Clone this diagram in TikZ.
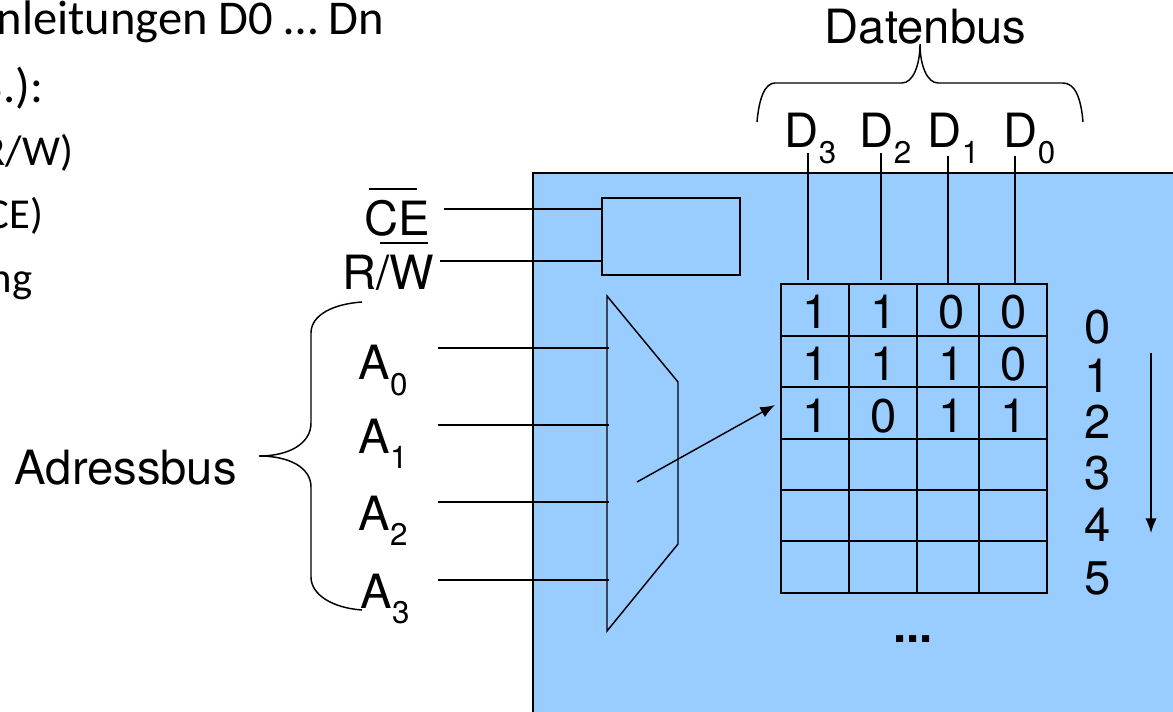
\documentclass[tikz,border=0pt]{standalone}
\usepackage{fontspec}
\setmainfont{TeX Gyre Heros}
\newfontfamily\slidefont{Carlito}
\usetikzlibrary{arrows.meta}
\definecolor{chipblue}{HTML}{99CCFF}
\newcommand{\sublabel}[2]{#1\raisebox{-11.5pt}{\fontsize{23.5}{23.5}\selectfont#2}}
\begin{document}
\begin{tikzpicture}[x=0.75pt, y=-0.75pt, >={Latex[length=11pt,width=8.5pt]}, line width=1.1pt,
  big/.style={font=\fontsize{35.4}{36}\selectfont, inner sep=0pt, anchor=base west},
  slide/.style={font=\slidefont\fontsize{#1}{#1}\selectfont, inner sep=0pt, anchor=base east},
  cell/.style={draw, inner sep=0pt, font=\fontsize{35.4}{36}\selectfont, text height=28.5pt, text depth=0pt}]
  \useasboundingbox (0,0) rectangle (1173,712);
  % chip
  \draw[fill=chipblue] (533,173) rectangle (1185,725);
  % text from the slide behind
  \node[slide=36.4] (t1) at (385,35) {nleitungen D0 … Dn};
  \node[slide=36.4] (t2) at (44,103) {B.):};
  \node[slide=32] (t3) at (74,166) {R/W)};
  \node[slide=32] (t4) at (44,229) {CE)};
  \node[slide=32] (t5) at (33,293) {ng};
  % bus labels
  \node[big] (datenbus) at (824,44) {Datenbus};
  \node[big] (adressbus) at (14,484) {Adressbus};
  \node[big] (d3) at (784,148) {\sublabel{D}{3}};
  \node[big] (d2) at (859,148) {\sublabel{D}{2}};
  \node[big] (d1) at (927,148) {\sublabel{D}{1}};
  \node[big] (d0) at (1003,148) {\sublabel{D}{0}};
  \node[big] (a0) at (358,380) {\sublabel{A}{0}};
  \node[big] (a1) at (358,453) {\sublabel{A}{1}};
  \node[big] (a2) at (358,530) {\sublabel{A}{2}};
  \node[big] (a3) at (360,608) {\sublabel{A}{3}};
  \node[big] (ce) at (364,236) {CE};
  \node[big] (rw) at (342,290) {R/W};
  \draw (369,189) -- (417,189);
  \draw (380,243) -- (428,243);
  % braces
  \draw (757,122) .. controls (759,98) and (765,83) .. (775,83) -- (902,83)
    .. controls (913,83) and (920,65) .. (920,44)
    .. controls (920,65) and (927,83) .. (938,83) -- (1063,83)
    .. controls (1075,83) and (1081,98) .. (1083,122);
  \draw (362,302) .. controls (333,304) and (311,315) .. (311,333) -- (311,423)
    .. controls (311,443) and (290,456) .. (259,456)
    .. controls (290,456) and (311,468) .. (311,487) -- (311,577)
    .. controls (311,595) and (333,608) .. (362,610);
  % control block
  \node[draw, minimum width=103.5pt, minimum height=57.75pt, inner sep=0pt] (ctrl) at (671,236.5) {};
  \coordinate (cein) at (444,209);
  \coordinate (rwin) at (440,261);
  \draw (cein) -- (cein -| ctrl.west);
  \draw (rwin) -- (rwin -| ctrl.west);
  % decoder
  \coordinate (dectop) at (607,296);
  \coordinate (decbot) at (607,631);
  \draw (dectop) -- (678,382) -- (678,544) -- (decbot) -- cycle;
  \foreach \i/\yy in {0/348,1/425,2/502,3/580}
    \draw (438,\yy) coordinate (ain\i) -- (ain\i -| 609,0);
  % memory cells
  \foreach \r/\yc/\hh/\ca/\cb/\cc/\cd in {0/310/52/1/1/0/0, 1/361.5/51/1/1/1/0, 2/413/52/1/0/1/1,
      3/464.5/51/{}/{}/{}/{}, 4/515.5/51/{}/{}/{}/{}, 5/567/52/{}/{}/{}/{}}
    \foreach \c/\xc/\ww/\off/\val in {0/815/68/1/\ca, 1/883/68/1/\cb, 2/948/62/5.5/\cc, 3/1013/68/1.5/\cd}
      \node[cell, minimum width=\ww*0.75pt, minimum height=\hh*0.75pt] (c\c\r) at (\xc,\yc) {\hspace*{\off pt}\val};
  % data lines
  \coordinate (dt3) at (808,153);
  \coordinate (dt2) at (881,153);
  \coordinate (dt1) at (948,156);
  \coordinate (dt0) at (1015,156);
  \draw[shorten >=2.2pt] (dt3) -- (dt3 |- c00.north);
  \draw[shorten >=2.2pt] (dt2) -- (dt2 |- c10.north);
  \draw (dt1) -- (dt1 |- c20.north);
  \draw (dt0) -- (dt0 |- c30.north);
  % address arrow
  \coordinate (selfrom) at (637,482);
  \coordinate (selto) at (775,405);
  \draw[->] (selfrom) -- (selto);
  % row numbers
  \foreach \n/\yy in {0/327,1/376,2/422,3/473,4/525,5/578}
    \node[font=\fontsize{35.4}{36}\selectfont, inner sep=0pt] (row\n) at (1097.5,\yy) {\n};
  \coordinate (scanfrom) at (1151,353);
  \coordinate (scanto) at (1151,533);
  \draw[->] (scanfrom) -- (scanto);
  \node[big, font=\fontsize{35.4}{36}\selectfont\bfseries] (more) at (893,642) {...};
\end{tikzpicture}
\end{document}
